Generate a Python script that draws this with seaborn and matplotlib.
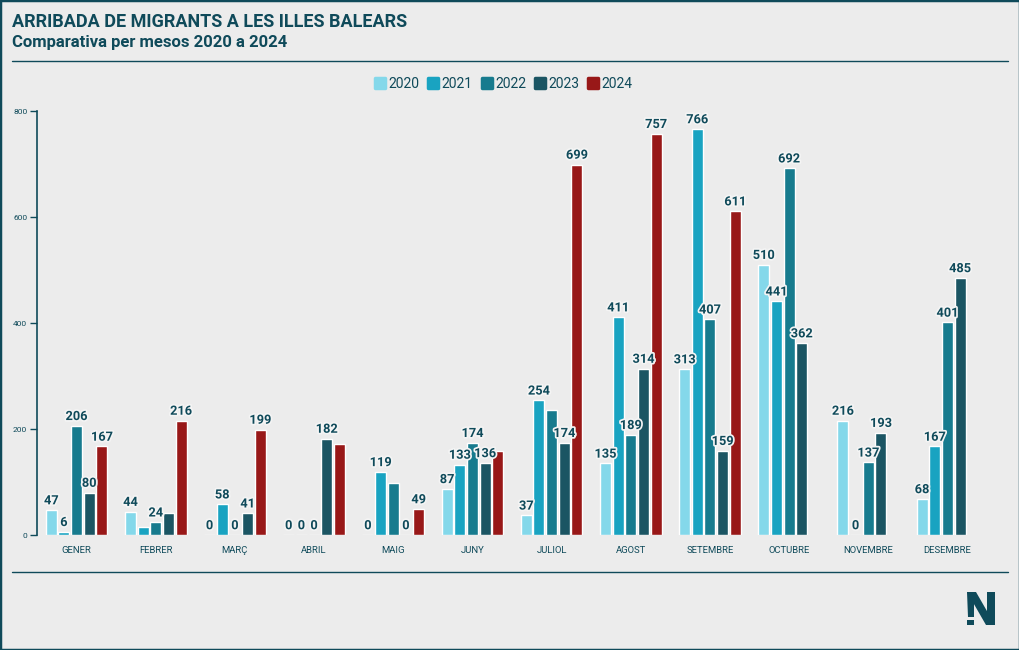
import numpy as np
import pandas as pd
import seaborn as sns
import matplotlib
matplotlib.use("Agg")
import matplotlib.pyplot as plt
import matplotlib.patheffects as pe
from matplotlib.patches import Rectangle, Polygon
from matplotlib.lines import Line2D
from matplotlib.markers import MarkerStyle

# ---------------- data ----------------
months = ["GENER", "FEBRER", "MARÇ", "ABRIL", "MAIG", "JUNY", "JULIOL",
          "AGOST", "SETEMBRE", "OCTUBRE", "NOVEMBRE", "DESEMBRE"]
years = ["2020", "2021", "2022", "2023", "2024"]
v2020 = [47, 44, 0, 0, 0, 87, 37, 135, 313, 510, 216, 68]
v2021 = [6, 15, 58, 0, 119, 133, 254, 411, 766, 441, 0, 167]
v2022 = [206, 24, 0, 0, 98, 174, 236, 189, 407, 692, 137, 401]
v2023 = [80, 41, 41, 182, 0, 136, 174, 314, 159, 362, 193, 485]
v2024 = [167, 216, 199, 172, 49, 159, 699, 757, 611, np.nan, np.nan, np.nan]
# bars whose value label is not shown in the original
hidden_labels = [("FEBRER", "2021"), ("FEBRER", "2023"), ("ABRIL", "2024"),
                 ("MAIG", "2022"), ("JUNY", "2024"), ("JULIOL", "2022")]

series = {"2020": v2020, "2021": v2021, "2022": v2022, "2023": v2023, "2024": v2024}
rows = []
for y in years:
    for m, v in zip(months, series[y]):
        rows.append({"month": m, "year": y, "value": v})
df = pd.DataFrame(rows)

# ---------------- style ----------------
BG = "#ececec"
TEAL = "#0f4a5a"
palette = {"2020": "#84d8ea", "2021": "#19a3c1", "2022": "#177b8e",
           "2023": "#1b5563", "2024": "#981818"}

sns.set_theme(style="white")
plt.rcParams["font.family"] = ["Roboto", "DejaVu Sans"]

W, H = 1020, 650
fig = plt.figure(figsize=(10.2, 6.5), dpi=100, facecolor=BG)
ax = fig.add_axes([37 / W, 1 - 535 / H, 950 / W, 424 / H])
ax.set_facecolor(BG)

sns.barplot(data=df, x="month", y="value", hue="year", order=months,
            hue_order=years, palette=palette, width=0.8, gap=0.12,
            saturation=1, ax=ax, legend=False, errorbar=None)

ax.set_ylim(0, 800)
ax.set_xlim(-0.5, len(months) - 0.5)
ax.set_yticks([0, 200, 400, 600, 800])
ax.set_xlabel("")
ax.set_ylabel("")
for s in ["top", "right", "bottom"]:
    ax.spines[s].set_visible(False)
ax.spines["left"].set_color(TEAL)
ax.spines["left"].set_linewidth(1.2)
ax.tick_params(axis="y", length=5, width=1, color=TEAL, labelsize=6,
               labelcolor=TEAL, pad=2, left=True)
ax.tick_params(axis="x", length=0, labelsize=6.8, labelcolor=TEAL, pad=8)

# value labels
halo = [pe.withStroke(linewidth=2.5, foreground="#f4f4f4")]
for yr, cont in zip(years, ax.containers):
    for bar in cont:
        h = bar.get_height()
        if np.isnan(h):
            continue
        xc = bar.get_x() + bar.get_width() / 2
        mi = int(round(xc))
        if (months[mi], yr) in hidden_labels:
            continue
        ax.annotate(f"{int(h)}", (xc, h), xytext=(0, 2), textcoords="offset points",
                    ha="center", va="bottom", fontsize=9.2, fontweight="bold",
                    color=TEAL, path_effects=halo, clip_on=False)

# legend
handles = [Line2D([], [], linestyle="none",
                  marker=MarkerStyle("s", joinstyle="round"), markersize=7.5,
                  markerfacecolor=palette[y], markeredgecolor=palette[y],
                  markeredgewidth=2.5) for y in years]
leg = fig.legend(handles, years, loc="center", bbox_to_anchor=(0.493, 1 - 84 / H),
                 ncol=5, frameon=False, handletextpad=0.1, columnspacing=0.5,
                 handlelength=1.0, fontsize=10)
for t in leg.get_texts():
    t.set_color(TEAL)

# titles
fig.text(12 / W, 1 - 22 / H, "ARRIBADA DE MIGRANTS A LES ILLES BALEARS",
         fontsize=13, fontweight="bold", color=TEAL, va="center", ha="left")
fig.text(12 / W, 1 - 43 / H, "Comparativa per mesos 2020 a 2024",
         fontsize=12, fontweight="bold", color=TEAL, va="center", ha="left")

# separators and frame
fig.add_artist(Line2D([12 / W, 1008 / W], [1 - 61 / H] * 2, color=TEAL, lw=1))
fig.add_artist(Line2D([12 / W, 1008 / W], [1 - 572 / H] * 2, color=TEAL, lw=1))
fig.add_artist(Rectangle((0, 0), 1, 1, transform=fig.transFigure, fill=False,
                         edgecolor=TEAL, lw=2.5))

# logo (stylised "N" with an exclamation-mark stem)
def px(pts):
    return [(x / W, 1 - y / H) for x, y in pts]

logo_shapes = [
    [(967, 592), (974, 592), (974, 617), (968, 617)],            # left stem
    [(967, 619.5), (974, 619.5), (974, 625), (967, 625)],        # dot
    [(967, 592), (976, 592), (995, 625), (986, 625)],            # diagonal
    [(987.5, 592), (995, 592), (995, 625), (987.5, 625)],        # right stem
]
for shp in logo_shapes:
    fig.add_artist(Polygon(px(shp), closed=True, transform=fig.transFigure,
                           facecolor=TEAL, edgecolor="none"))

fig.savefig("out.png", dpi=100, facecolor=BG)
